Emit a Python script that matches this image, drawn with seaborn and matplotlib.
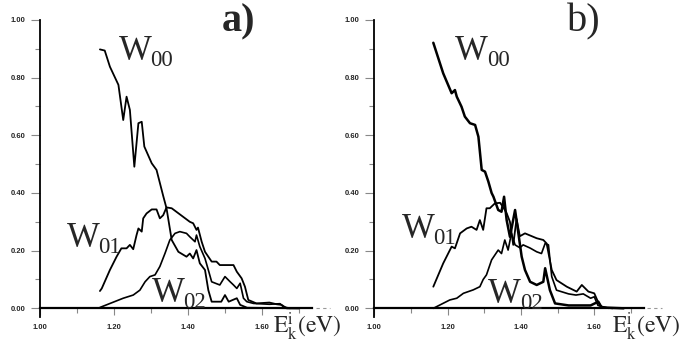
import matplotlib
matplotlib.use("Agg")
import matplotlib.pyplot as plt
import seaborn as sns
from matplotlib.ticker import MultipleLocator, FormatStrFormatter

# ---------------- data ----------------
# panel a)
a_w00_x = [1.162, 1.175, 1.189, 1.212, 1.225, 1.234, 1.243, 1.255, 1.266, 1.275, 1.282,
           1.302, 1.315, 1.333, 1.342, 1.356, 1.374, 1.396, 1.405, 1.414, 1.423, 1.432,
           1.446, 1.455, 1.464, 1.490, 1.500, 1.510, 1.532, 1.541, 1.560, 1.700]
a_w00_y = [0.898, 0.894, 0.838, 0.775, 0.653, 0.734, 0.688, 0.491, 0.642, 0.647, 0.561,
           0.503, 0.480, 0.390, 0.347, 0.237, 0.196, 0.179, 0.190, 0.173, 0.202, 0.156,
           0.133, 0.063, 0.023, 0.023, 0.046, 0.023, 0.035, 0.012, 0.002, 0.0]

a_w01_x = [1.162, 1.167, 1.189, 1.207, 1.220, 1.234, 1.243, 1.252, 1.261, 1.266, 1.275,
           1.279, 1.288, 1.302, 1.315, 1.324, 1.333, 1.342, 1.356, 1.380, 1.405, 1.414,
           1.423, 1.427, 1.437, 1.446, 1.455, 1.464, 1.477, 1.486, 1.514, 1.523, 1.532,
           1.545, 1.554, 1.563, 1.585, 1.620, 1.640, 1.653, 1.667, 1.700]
a_w01_y = [0.060, 0.069, 0.133, 0.179, 0.208, 0.208, 0.220, 0.205, 0.254, 0.277, 0.266,
           0.312, 0.329, 0.343, 0.343, 0.312, 0.323, 0.350, 0.347, 0.324, 0.300, 0.295,
           0.272, 0.280, 0.231, 0.196, 0.179, 0.162, 0.162, 0.150, 0.150, 0.150, 0.127,
           0.104, 0.075, 0.029, 0.017, 0.020, 0.014, 0.012, 0.0, 0.0]

a_w02_x = [1.162, 1.225, 1.252, 1.270, 1.284, 1.297, 1.311, 1.324, 1.338, 1.351, 1.365,
           1.378, 1.396, 1.405, 1.419, 1.423, 1.432, 1.446, 1.455, 1.464, 1.486, 1.500,
           1.514, 1.523, 1.532, 1.541, 1.550, 1.559, 1.577, 1.620, 1.649, 1.658, 1.676]
a_w02_y = [0.003, 0.035, 0.046, 0.063, 0.092, 0.110, 0.116, 0.145, 0.191, 0.237, 0.260,
           0.266, 0.260, 0.248, 0.231, 0.254, 0.214, 0.173, 0.133, 0.092, 0.081, 0.110,
           0.092, 0.081, 0.069, 0.087, 0.035, 0.023, 0.017, 0.014, 0.016, 0.005, 0.0]

# panel b)
b_w00_x = [1.161, 1.188, 1.211, 1.220, 1.225, 1.238, 1.247, 1.261, 1.275, 1.284, 1.293,
           1.302, 1.311, 1.320, 1.325, 1.338, 1.347, 1.354, 1.361, 1.370, 1.384, 1.393,
           1.402, 1.411, 1.425, 1.443, 1.461, 1.466, 1.479, 1.493, 1.530, 1.590, 1.611,
           1.620, 1.680]
b_w00_y = [0.921, 0.815, 0.746, 0.757, 0.734, 0.699, 0.665, 0.642, 0.636, 0.595, 0.480,
           0.474, 0.440, 0.400, 0.387, 0.341, 0.335, 0.387, 0.306, 0.248, 0.341, 0.260,
           0.179, 0.133, 0.092, 0.081, 0.092, 0.139, 0.063, 0.017, 0.010, 0.010, 0.023,
           0.003, 0.0]

b_w01_x = [1.161, 1.188, 1.211, 1.220, 1.234, 1.252, 1.265, 1.279, 1.288, 1.297, 1.306,
           1.315, 1.329, 1.343, 1.352, 1.361, 1.370, 1.379, 1.388, 1.397, 1.411, 1.443,
           1.461, 1.470, 1.484, 1.497, 1.525, 1.552, 1.566, 1.584, 1.600, 1.611, 1.620,
           1.650]
b_w01_y = [0.075, 0.156, 0.214, 0.208, 0.260, 0.277, 0.283, 0.272, 0.306, 0.272, 0.347,
           0.347, 0.364, 0.366, 0.350, 0.330, 0.300, 0.220, 0.310, 0.250, 0.260, 0.243,
           0.237, 0.225, 0.133, 0.098, 0.075, 0.058, 0.081, 0.058, 0.052, 0.020, 0.003,
           0.0]

b_w02_x = [1.161, 1.206, 1.225, 1.243, 1.270, 1.288, 1.297, 1.306, 1.320, 1.338, 1.347,
           1.356, 1.365, 1.374, 1.384, 1.397, 1.406, 1.425, 1.443, 1.456, 1.466, 1.475,
           1.484, 1.497, 1.530, 1.550, 1.570, 1.590, 1.600, 1.610, 1.640]
b_w02_y = [0.0, 0.029, 0.035, 0.052, 0.064, 0.075, 0.100, 0.116, 0.168, 0.202, 0.190,
           0.237, 0.202, 0.260, 0.220, 0.210, 0.220, 0.209, 0.196, 0.190, 0.225, 0.220,
           0.110, 0.063, 0.050, 0.046, 0.050, 0.035, 0.040, 0.010, 0.0]

x_major = [1.0, 1.2, 1.4, 1.6]
y_major = [0.0, 0.2, 0.4, 0.6, 0.8, 1.0]
subscripts = ["00", "01", "02"]

# ---------------- style ----------------
sns.set_style("white")
plt.rcParams["mathtext.fontset"] = "stix"
plt.rcParams["font.family"] = ["DejaVu Sans"]

fig = plt.figure(figsize=(6.8, 3.47), dpi=100)
ax_a = fig.add_axes([0.0588, 0.0824, 0.4244, 0.860])
ax_b = fig.add_axes([0.5504, 0.0824, 0.4206, 0.860])

panels = [
    (ax_a, [(a_w00_x, a_w00_y, 1.3), (a_w01_x, a_w01_y, 1.3), (a_w02_x, a_w02_y, 1.2)],
     "a)", "bold", [(1.212, 0.861), (1.072, 0.214), (1.302, 0.023)], (1.491, 0.959), 1.631),
    (ax_b, [(b_w00_x, b_w00_y, 1.8), (b_w01_x, b_w01_y, 1.3), (b_w02_x, b_w02_y, 1.2)],
     "b)", "normal", [(1.220, 0.861), (1.075, 0.243), (1.311, 0.017)], (1.525, 0.959), 1.647),
]

for ax, series, tag, weight, name_pos, tag_pos, ex in panels:
    for xs, ys, lw in series:
        sns.lineplot(x=xs, y=ys, ax=ax, color="black", lw=lw, sort=False,
                     estimator=None, legend=False)
    ax.set_xlim(1.0, 1.78)
    ax.set_ylim(-0.035, 1.0)
    for s in ["top", "right"]:
        ax.spines[s].set_visible(False)
    ax.spines["bottom"].set_position(("data", 0))
    ax.spines["bottom"].set_bounds(1.0, 1.735)
    ax.spines["bottom"].set_linewidth(1.6)
    ax.spines["bottom"].set_color("black")
    ax.spines["left"].set_bounds(-0.03, 1.0)
    ax.spines["left"].set_linewidth(1.3)
    ax.spines["left"].set_color("black")
    ax.hlines(0, 1.745, 1.785, colors="#999999", linestyles=(0, (3, 3)), lw=0.8,
              clip_on=False)

    ax.set_xticks(x_major)
    ax.xaxis.set_minor_locator(MultipleLocator(0.1))
    ax.set_yticks(y_major)
    ax.yaxis.set_minor_locator(MultipleLocator(0.1))
    ax.xaxis.set_major_formatter(FormatStrFormatter("%.2f"))
    ax.yaxis.set_major_formatter(FormatStrFormatter("%.2f"))
    ax.tick_params(axis="both", which="both", direction="out",
                   width=0.8, color="#888888", bottom=True, left=True)
    ax.tick_params(axis="both", which="minor", length=3.5)
    ax.tick_params(axis="y", which="major", length=6.5, pad=4)
    ax.tick_params(axis="x", which="major", length=5, pad=6)
    for lab in ax.get_xticklabels() + ax.get_yticklabels():
        lab.set_fontsize(5.5)
        lab.set_fontweight("bold")
        lab.set_family("Liberation Sans")
    ax.set_xlabel("")
    ax.set_ylabel("")

    for sub, (px, py) in zip(subscripts, name_pos):
        w = ax.text(px, py, "W", fontsize=25, family="Liberation Serif",
                    ha="left", va="baseline", clip_on=False)
        ax.annotate(sub, xy=(1, 0), xycoords=w, xytext=(-0.8, 1.5),
                    textcoords="offset points", fontsize=16.5,
                    family="Liberation Serif", ha="left", va="baseline")
    ax.text(tag_pos[0], tag_pos[1], tag, fontsize=29, fontweight=weight,
            family="Liberation Serif", ha="left", va="baseline", clip_on=False)
    ax.text(ex, -0.087, r"$\mathrm{E}_{\mathrm{k}}^{\mathrm{i}}\mathrm{(eV)}$",
            fontsize=17, ha="left", va="baseline", clip_on=False)

fig.savefig("out.png", dpi=100, facecolor="white")
